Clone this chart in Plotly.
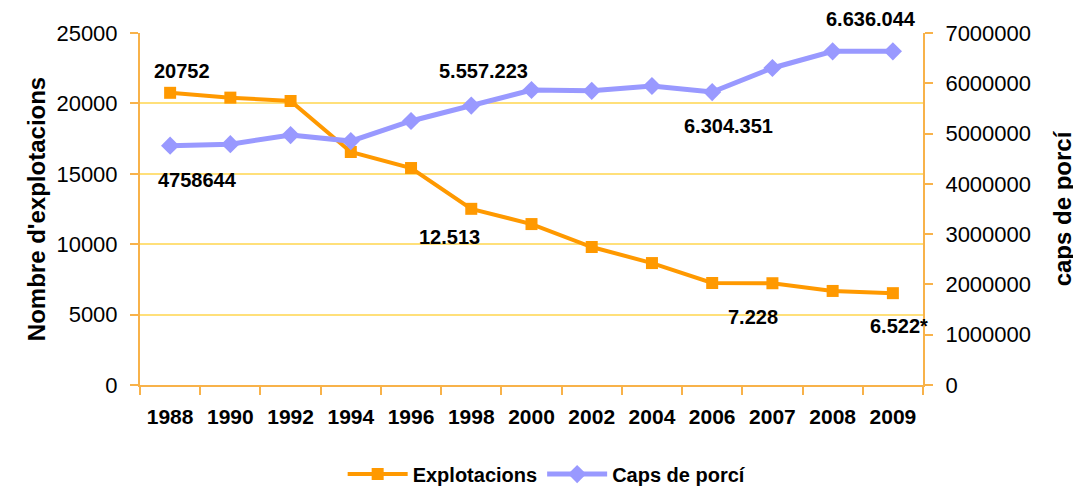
import plotly.graph_objects as go

years = ["1988", "1990", "1992", "1994", "1996", "1998", "2000",
         "2002", "2004", "2006", "2007", "2008", "2009"]
explotacions = [20752, 20410, 20170, 16550, 15410, 12513, 11430,
                9800, 8660, 7245, 7228, 6680, 6522]
caps_porci = [4758644, 4790000, 4970000, 4850000, 5250000, 5557223, 5866000,
              5850000, 5946000, 5826000, 6304351, 6636044, 6636044]

# labels shown on the chart: (series, index, text, xshift, yshift)
labels = [
    ("e", 0, "20752", 12, 22),
    ("c", 0, "4758644", 27, -34),
    ("c", 5, "5.557.223", 12, 35),
    ("e", 5, "12.513", -22, -28),
    ("c", 10, "6.304.351", -44, -58),
    ("e", 10, "7.228", -19, -34),
    ("c", 11, "6.636.044", 38, 32),
    ("e", 12, "6.522*", 6, -33),
]

ORANGE = "#FF9900"
LILAC = "#9999FF"
AXIS = "#F8B24A"
GRID = "#FFE07A"
FONT = "Liberation Sans, Arial, sans-serif"

fig = go.Figure()
fig.add_trace(go.Scatter(
    x=years, y=explotacions, name="Explotacions", mode="lines+markers",
    line=dict(color=ORANGE, width=4),
    marker=dict(symbol="square", size=12, color=ORANGE),
))
fig.add_trace(go.Scatter(
    x=years, y=caps_porci, name="Caps de porcí", mode="lines+markers",
    yaxis="y2",
    line=dict(color=LILAC, width=5),
    marker=dict(symbol="diamond", size=14, color=LILAC),
))

# on a category axis the annotation x is the category index
for series, i, text, dx, dy in labels:
    fig.add_annotation(
        x=i,
        y=explotacions[i] if series == "e" else caps_porci[i],
        yref="y" if series == "e" else "y2",
        text=text, showarrow=False, xshift=dx, yshift=dy,
        font=dict(family=FONT, size=20, color="black", weight="bold"),
    )

# the page body has an 8px margin, so the figure is 8px smaller than the window
fig.update_layout(
    width=1073, height=481,
    margin=dict(l=132, r=158, t=25, b=104, autoexpand=False),
    paper_bgcolor="white", plot_bgcolor="white",
    font=dict(family=FONT, color="black"),
    showlegend=True,
    legend=dict(orientation="h", x=0.52, xanchor="center", xref="paper",
                y=-0.253, yanchor="middle", itemwidth=60,
                font=dict(family=FONT, size=20, weight="bold")),
    xaxis=dict(
        type="category", range=[-0.5, len(years) - 0.5], automargin=False,
        showline=True, linecolor=AXIS, linewidth=2,
        ticks="outside", ticklen=8, tickcolor=AXIS, tickwidth=1.5,
        tickson="boundaries", showgrid=False, ticklabelstandoff=12,
        tickangle=0,
        tickfont=dict(family=FONT, size=21, weight="bold"),
    ),
    yaxis=dict(
        range=[0, 25000], dtick=5000, automargin=False,
        showline=True, linecolor=AXIS, linewidth=2,
        ticks="outside", ticklen=8, tickcolor=AXIS, tickwidth=1.5,
        showgrid=True, gridcolor=GRID, gridwidth=2, zeroline=False,
        tickformat="d", ticklabelstandoff=8,
        tickfont=dict(family=FONT, size=22),
        title=dict(text="Nombre d'explotacions", standoff=4,
                   font=dict(family=FONT, size=24, weight="bold")),
    ),
    yaxis2=dict(
        range=[0, 7000000], dtick=1000000, overlaying="y", side="right",
        automargin=False,
        showline=True, linecolor=AXIS, linewidth=2,
        ticks="outside", ticklen=8, tickcolor=AXIS, tickwidth=1.5,
        showgrid=False, zeroline=False, tickformat="d", ticklabelstandoff=8,
        tickfont=dict(family=FONT, size=22),
        title=dict(text="caps de porcí", standoff=24,
                   font=dict(family=FONT, size=24, weight="bold")),
    ),
)

fig.write_html("out.html")
